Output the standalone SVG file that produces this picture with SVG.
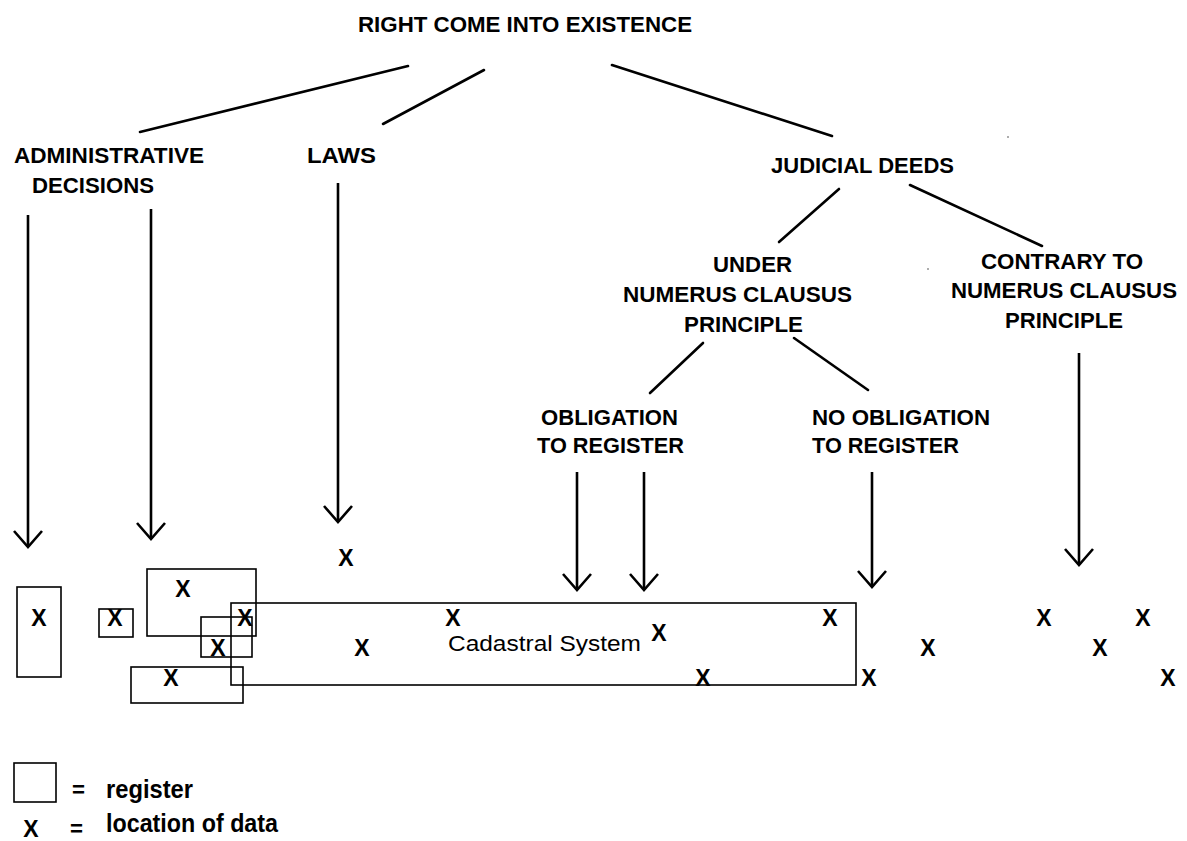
<svg xmlns="http://www.w3.org/2000/svg" width="1187" height="841" viewBox="0 0 1187 841">
<style>
.lbl{font-family:"Liberation Sans",Arial,sans-serif;font-weight:bold;font-size:22px;fill:#000}
.leg{font-family:"Liberation Sans",Arial,sans-serif;font-weight:bold;font-size:26px;fill:#000}
.xm{font-family:"Liberation Sans",Arial,sans-serif;font-weight:bold;font-size:23px;fill:#000;text-anchor:middle}
.reg{fill:none;stroke:#000;stroke-width:1.6}
.ln{stroke:#000;stroke-width:2.6;fill:none;stroke-linecap:round}
.ar{stroke:#000;stroke-width:2.6;fill:none}
</style>
<defs>
<marker id="vh" viewBox="-20 -16 22 32" refX="0" refY="0" markerWidth="22" markerHeight="32" markerUnits="userSpaceOnUse" orient="auto">
<path d="M-16,-14 L0,0 L-16,14" fill="none" stroke="#000" stroke-width="2.6"/>
</marker>
</defs>
<rect width="1187" height="841" fill="#fff"/>

<g id="title"><text class="lbl" x="358" y="32" textLength="334" lengthAdjust="spacingAndGlyphs">RIGHT COME INTO EXISTENCE</text></g>
<g id="admin"><text class="lbl" x="14" y="163" textLength="190" lengthAdjust="spacingAndGlyphs">ADMINISTRATIVE</text><text class="lbl" x="32" y="193" textLength="122" lengthAdjust="spacingAndGlyphs">DECISIONS</text></g>
<g id="laws"><text class="lbl" x="307" y="163" textLength="69" lengthAdjust="spacingAndGlyphs">LAWS</text></g>
<g id="judicial"><text class="lbl" x="771" y="173" textLength="183" lengthAdjust="spacingAndGlyphs">JUDICIAL DEEDS</text></g>
<g id="under"><text class="lbl" x="713" y="272" textLength="79" lengthAdjust="spacingAndGlyphs">UNDER</text><text class="lbl" x="623" y="302" textLength="229" lengthAdjust="spacingAndGlyphs">NUMERUS CLAUSUS</text><text class="lbl" x="684" y="332" textLength="119" lengthAdjust="spacingAndGlyphs">PRINCIPLE</text></g>
<g id="contrary"><text class="lbl" x="981" y="269" textLength="162" lengthAdjust="spacingAndGlyphs">CONTRARY TO</text><text class="lbl" x="951" y="298" textLength="226" lengthAdjust="spacingAndGlyphs">NUMERUS CLAUSUS</text><text class="lbl" x="1005" y="328" textLength="118" lengthAdjust="spacingAndGlyphs">PRINCIPLE</text></g>
<g id="obligation"><text class="lbl" x="541" y="425" textLength="137" lengthAdjust="spacingAndGlyphs">OBLIGATION</text><text class="lbl" x="537" y="453" textLength="147" lengthAdjust="spacingAndGlyphs">TO REGISTER</text></g>
<g id="noobligation"><text class="lbl" x="812" y="425" textLength="178" lengthAdjust="spacingAndGlyphs">NO OBLIGATION</text><text class="lbl" x="812" y="453" textLength="147" lengthAdjust="spacingAndGlyphs">TO REGISTER</text></g>

<g id="connectors">
<line class="ln" x1="408" y1="66" x2="140" y2="132"/>
<line class="ln" x1="484" y1="70" x2="383" y2="124"/>
<line class="ln" x1="612" y1="65" x2="832" y2="136"/>
<line class="ln" x1="839" y1="189" x2="779" y2="242"/>
<line class="ln" x1="910" y1="185" x2="1042" y2="246"/>
<line class="ln" x1="703" y1="343" x2="650" y2="393"/>
<line class="ln" x1="794" y1="338" x2="868" y2="390"/>
<line class="ar" x1="28" y1="215" x2="28" y2="547" marker-end="url(#vh)"/>
<line class="ar" x1="151" y1="209" x2="151" y2="539" marker-end="url(#vh)"/>
<line class="ar" x1="338" y1="183" x2="338" y2="522" marker-end="url(#vh)"/>
<line class="ar" x1="577" y1="472" x2="577" y2="590" marker-end="url(#vh)"/>
<line class="ar" x1="644" y1="472" x2="644" y2="590" marker-end="url(#vh)"/>
<line class="ar" x1="872" y1="472" x2="872" y2="587" marker-end="url(#vh)"/>
<line class="ar" x1="1079" y1="353" x2="1079" y2="565" marker-end="url(#vh)"/>
</g>

<g id="registers">
<rect class="reg" x="17" y="587" width="44" height="90"/>
<rect class="reg" x="99" y="609" width="34" height="28"/>
<rect class="reg" x="147" y="569" width="109" height="67"/>
<rect class="reg" x="201" y="617" width="51" height="40"/>
<rect class="reg" x="131" y="667" width="112" height="36"/>
</g>
<g id="cadastral">
<rect class="reg" x="231" y="603" width="625" height="82"/>
<text x="448" y="651" textLength="193" lengthAdjust="spacingAndGlyphs" style="font-family:'Liberation Sans',Arial,sans-serif;font-size:22px;fill:#000">Cadastral System</text>
</g>
<g id="data">
<text class="xm" x="39" y="626">X</text>
<text class="xm" x="115" y="626">X</text>
<text class="xm" x="183" y="597">X</text>
<text class="xm" x="245" y="626">X</text>
<text class="xm" x="218" y="656">X</text>
<text class="xm" x="171" y="686">X</text>
<text class="xm" x="346" y="566">X</text>
<text class="xm" x="453" y="626">X</text>
<text class="xm" x="362" y="656">X</text>
<text class="xm" x="659" y="641">X</text>
<text class="xm" x="830" y="626">X</text>
<text class="xm" x="703" y="686">X</text>
<text class="xm" x="869" y="686">X</text>
<text class="xm" x="928" y="656">X</text>
<text class="xm" x="1044" y="626">X</text>
<text class="xm" x="1143" y="626">X</text>
<text class="xm" x="1100" y="656">X</text>
<text class="xm" x="1168" y="686">X</text>
</g>
<g id="legend">
<rect class="reg" x="14" y="763" width="42" height="39"/>
<text class="lbl" x="72" y="797" textLength="13" lengthAdjust="spacingAndGlyphs">=</text>
<text class="leg" x="106" y="798" textLength="87" lengthAdjust="spacingAndGlyphs">register</text>
<text class="xm" x="31" y="837">X</text>
<text class="lbl" x="70" y="836" textLength="13" lengthAdjust="spacingAndGlyphs">=</text>
<text class="leg" x="106" y="832" textLength="172" lengthAdjust="spacingAndGlyphs">location of data</text>
</g>
<g id="specks" fill="#444"><circle cx="1008" cy="137" r="0.8"/><circle cx="928" cy="269" r="0.8"/></g>
</svg>
